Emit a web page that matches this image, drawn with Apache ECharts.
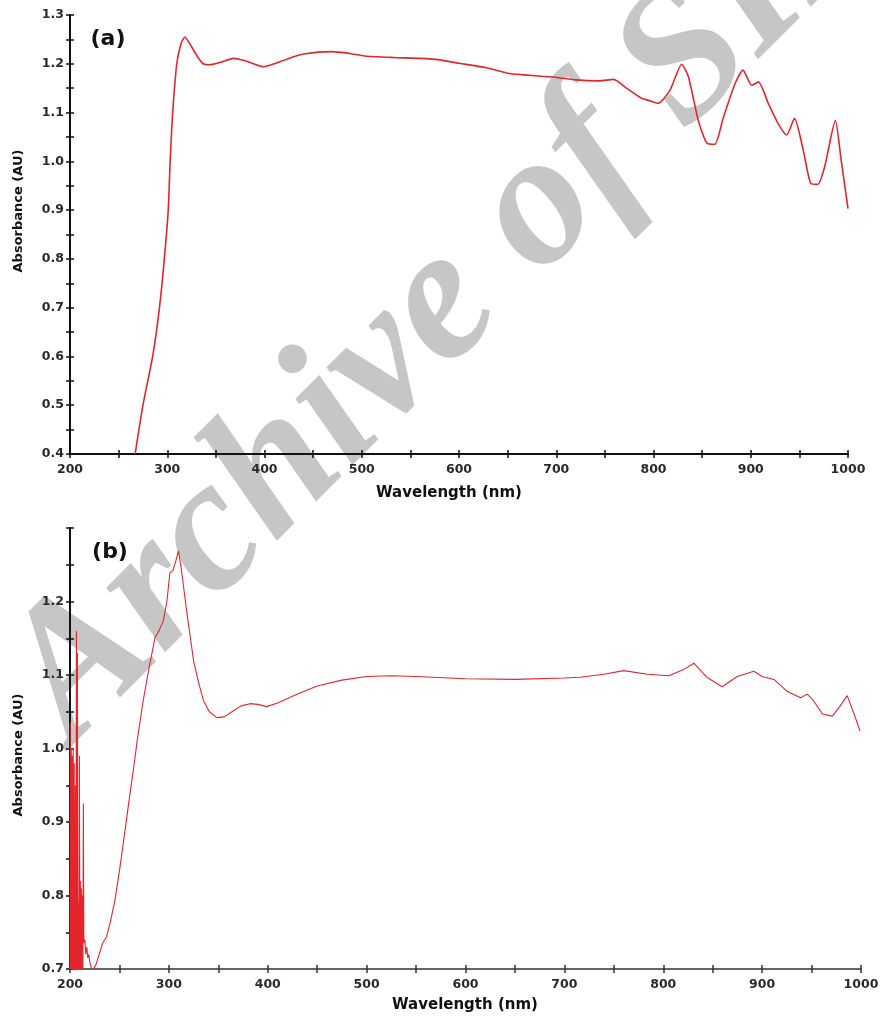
<!DOCTYPE html>
<html>
<head>
<meta charset="utf-8">
<script src="https://cdn.jsdelivr.net/npm/echarts@6/dist/echarts.min.js"></script>
<style>
  html, body { margin: 0; padding: 0; background: #fff; }
  #chart { width: 883px; height: 1021px; }
</style>
</head>
<body>
<div id="chart"></div>
<script>
// panel (a)
var wlA = [267, 275, 285, 292, 297, 301, 303, 305.6, 309.8, 314, 318, 325, 331, 337, 344, 355, 368, 380, 390, 399,
  410, 425, 440, 469, 488, 503, 532, 561, 580, 600, 628, 652, 681, 701, 720, 744, 759, 773, 788, 795,
  805, 817, 829, 836, 846, 855, 863, 872, 884, 892, 901, 908, 918, 928, 937, 945, 954, 962, 969, 976,
  987, 993, 1000];
var absA = [0.40, 0.50, 0.60, 0.70, 0.80, 0.90, 1.00, 1.10, 1.20, 1.24, 1.255, 1.235, 1.215, 1.20, 1.198, 1.203, 1.211, 1.206, 1.199, 1.194,
  1.200, 1.211, 1.220, 1.225, 1.221, 1.216, 1.213, 1.211, 1.208, 1.201, 1.192, 1.180, 1.175, 1.172, 1.167, 1.165, 1.168, 1.149, 1.129, 1.125,
  1.119, 1.146, 1.199, 1.173, 1.084, 1.037, 1.035, 1.091, 1.160, 1.187, 1.156, 1.163, 1.119, 1.078, 1.054, 1.088, 1.023, 0.954, 0.953, 0.989,
  1.084, 1.002, 0.903];

// panel (b) - noisy start below 225 nm
var wlBNoise = [200, 200.25, 200.5, 200.75, 201, 201.25, 201.5, 201.75, 202, 202.25, 202.5, 202.75, 203, 203.25, 203.5, 203.75,
  204, 204.25, 204.5, 204.75, 205, 205.5, 206, 206.5, 207, 207.5, 208, 208.5, 209, 209.5,
  210, 210.5, 211, 211.5, 212, 212.5, 213, 213.5, 214, 214.5, 215, 216, 217, 218, 219, 220, 221, 222, 223];
var absBNoise = [0.65, 1.035, 0.66, 0.97, 0.66, 1.0, 0.67, 0.96, 0.68, 0.99, 0.66, 0.93, 0.66, 1.0, 0.67, 0.95,
  0.67, 0.98, 0.66, 0.88, 0.66, 0.95, 0.65, 1.16, 0.66, 1.13, 0.68, 0.79, 0.66, 0.99,
  0.66, 0.82, 0.68, 0.81, 0.67, 0.80, 0.70, 0.925, 0.74, 0.735, 0.74, 0.72, 0.73, 0.715, 0.72, 0.71, 0.705, 0.695, 0.699];
var wlB = [226, 230, 233, 237, 241, 245.5, 250.6, 255.7, 260.7, 264, 268, 274, 280, 286, 290, 294.4, 298, 301, 304, 307,
  309.6, 312, 318, 325, 330, 335, 341, 348.5, 356, 365, 373, 382, 390, 399, 410, 420, 433, 450, 475, 500,
  525, 550, 600, 650, 700, 716, 740, 760, 784, 805.6, 820, 831, 844, 859.6, 874.8, 891.6, 900, 912, 925, 939,
  945.6, 952, 961, 971, 979, 986, 993, 999];
var absB = [0.705, 0.722, 0.735, 0.744, 0.765, 0.794, 0.839, 0.889, 0.939, 0.970, 1.011, 1.065, 1.11, 1.151, 1.160, 1.174, 1.20, 1.239, 1.242, 1.255,
  1.269, 1.25, 1.187, 1.119, 1.09, 1.065, 1.05, 1.042, 1.043, 1.051, 1.058, 1.061, 1.060, 1.057, 1.062, 1.068, 1.076, 1.085, 1.093, 1.098,
  1.099, 1.098, 1.095, 1.094, 1.096, 1.097, 1.101, 1.106, 1.101, 1.099, 1.107, 1.116, 1.097, 1.084, 1.098, 1.105, 1.098, 1.094, 1.078, 1.069,
  1.074, 1.065, 1.047, 1.044, 1.058, 1.072, 1.047, 1.024];

function pairs(xs, ys) {
  return xs.map(function (x, i) { return [x, ys[i]]; });
}

var chart = echarts.init(document.getElementById('chart'));

var FONT = 'DejaVu Sans, Verdana, sans-serif';
var labelFont = { color: '#2a2a2a', fontSize: 12.5, fontWeight: 'bold', fontFamily: FONT };

// main x axis (ticks outward) + twin with inward ticks so ticks cross the line
function xAx(gi, lineW, color, inner) {
  return {
    gridIndex: gi, type: 'value', min: 200, max: 1000, interval: 100, position: 'bottom',
    axisLine: { show: !inner, lineStyle: { color: color, width: lineW } },
    axisTick: { inside: inner, length: 4, lineStyle: { color: color, width: 1.5 } },
    minorTick: { show: true, splitNumber: 2, length: 4, lineStyle: { color: color, width: 1.5 } },
    axisLabel: Object.assign({ show: !inner, margin: 9, formatter: function (v) { return String(v); } }, labelFont),
    splitLine: { show: false }
  };
}

function yAx(gi, min, hideTop, inner) {
  return {
    gridIndex: gi, type: 'value', min: min, max: 1.3, interval: 0.1, position: 'left',
    axisLine: { show: !inner, lineStyle: { color: '#111', width: 2 } },
    axisTick: { inside: inner, length: 4, lineStyle: { color: '#111', width: 1.5 } },
    minorTick: { show: true, splitNumber: 2, length: 4, lineStyle: { color: '#111', width: 1.5 } },
    axisLabel: Object.assign({
      show: !inner, margin: 6,
      formatter: function (v) { return (hideTop && v > 1.25) ? '' : v.toFixed(1); }
    }, labelFont),
    splitLine: { show: false }
  };
}

function txt(x, y, s, size, rot) {
  return {
    type: 'text', x: x, y: y, rotation: rot || 0, z: 5,
    style: {
      text: s, fontSize: size, fontWeight: 'bold', fontFamily: FONT, fill: '#111',
      textAlign: 'center', textVerticalAlign: 'middle'
    }
  };
}

var option = {
  backgroundColor: '#fff',
  animation: false,
  grid: [
    { left: 70, right: 35, top: 15, bottom: 567 },
    { left: 70, right: 22, top: 528, bottom: 52 }
  ],
  xAxis: [xAx(0, 2, '#111', false), xAx(1, 1.5, '#333', false), xAx(0, 2, '#111', true), xAx(1, 1.5, '#333', true)],
  yAxis: [yAx(0, 0.4, false, false), yAx(1, 0.7, true, false), yAx(0, 0.4, false, true), yAx(1, 0.7, true, true)],
  graphic: [
    txt(108, 39, '(a)', 22),
    txt(110, 552, '(b)', 22),
    txt(449, 493, 'Wavelength (nm)', 15),
    txt(465, 1005, 'Wavelength (nm)', 15),
    txt(19, 211, 'Absorbance (AU)', 13, Math.PI / 2),
    txt(19, 755, 'Absorbance (AU)', 13, Math.PI / 2),
    {
      type: 'text', x: 456, y: 292, rotation: 45 * Math.PI / 180, z: -1,
      style: {
        text: 'Archive of SID', fontSize: 190, fontStyle: 'italic', fontWeight: 'bold',
        fontFamily: 'Liberation Serif, Times New Roman, serif', fill: '#c6c6c6',
        textAlign: 'center', textVerticalAlign: 'middle'
      }
    }
  ],
  series: [
    {
      type: 'line', xAxisIndex: 0, yAxisIndex: 0, showSymbol: false, smooth: 0.2, z: 3,
      lineStyle: { color: '#e3262b', width: 1.6 },
      data: pairs(wlA, absA)
    },
    {
      type: 'line', xAxisIndex: 1, yAxisIndex: 1, showSymbol: false, z: 3,
      lineStyle: { color: '#e3262b', width: 1.1 },
      data: pairs(wlBNoise.concat(wlB), absBNoise.concat(absB))
    }
  ]
};

chart.setOption(option);
window.addEventListener('resize', function () { chart.resize(); });
</script>
</body>
</html>
